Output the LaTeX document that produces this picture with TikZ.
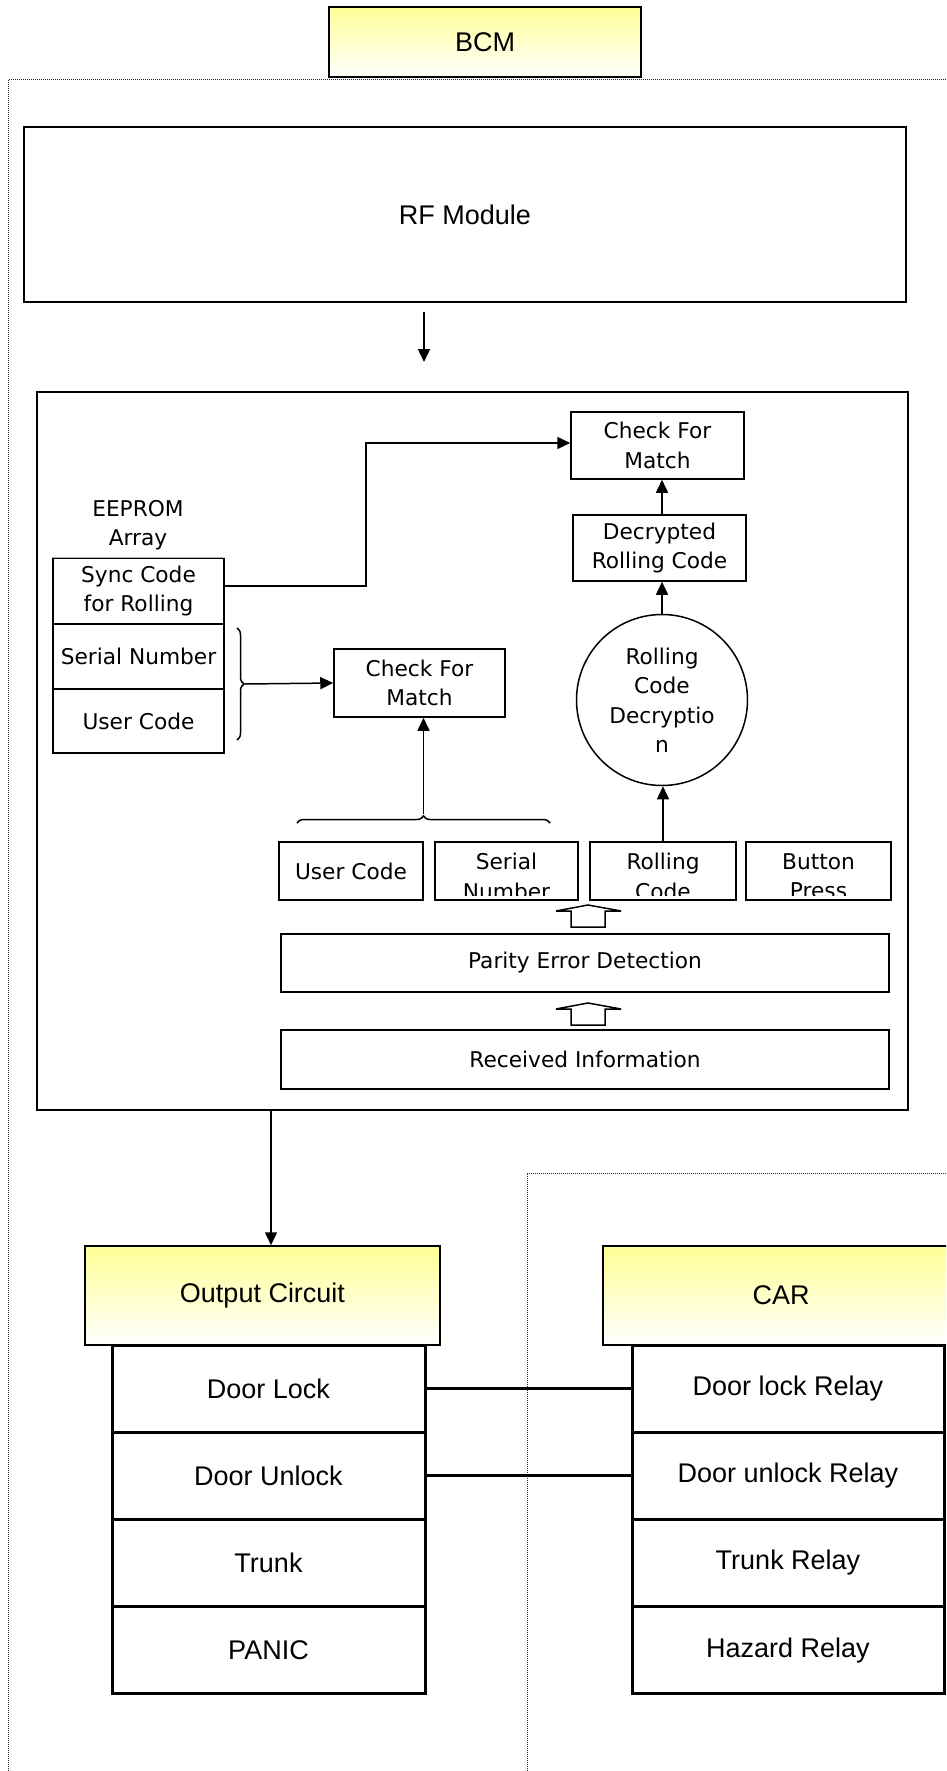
\documentclass[tikz,border=0pt]{standalone}
\usepackage{fontspec}
\setmainfont{Liberation Sans}
\newfontfamily\gulimfont{DejaVu Sans}
\usetikzlibrary{arrows.meta,decorations.pathreplacing}
\definecolor{hdryellow}{RGB}{255,255,150}
\begin{document}
\begin{tikzpicture}[x=1pt,y=-1pt,
  hdr/.style={draw,line width=1.5pt,top color=hdryellow,bottom color=white,inner sep=0pt,font=\fontsize{27}{32}\selectfont},
  outer/.style={draw,line width=1.5pt,inner sep=0pt,font=\fontsize{27}{32}\selectfont},
  cell/.style={draw,line width=3pt,minimum height=87pt,inner sep=0pt,font=\fontsize{27}{32}\selectfont},
  box/.style={draw,line width=1.5pt,inner sep=0pt,align=center,font=\gulimfont\fontsize{21.7}{29.5}\selectfont},
  txt/.style={inner sep=0pt,align=center,font=\gulimfont\fontsize{21.7}{29.5}\selectfont},
  arr/.style={line width=1.5pt,-{Triangle[length=13pt,width=12pt]}},
  link/.style={line width=3pt},
  zone/.style={densely dotted,line width=1pt,draw=black!85},
  brc/.style={line width=1.5pt,decorate,decoration={brace,amplitude=7pt}},
]
\useasboundingbox (0,0) rectangle (946,1771);
\clip (0,0) rectangle (946,1771);

% dotted zones
\draw[zone] (946,80) -- (8,80) -- (8,1771);
\draw[zone] (946,1173) -- (527,1173) -- (527,1771);

\node[hdr,minimum width=312pt,minimum height=70pt] (bcm) at (485,42) {BCM};
\node[outer,minimum width=882pt,minimum height=175pt] (rf) at (465,214.5) {RF Module};
\node[outer,minimum width=871pt,minimum height=718pt] (proc) at (472.5,751) {};

% rolling code path
\node[box,minimum width=173pt,minimum height=67pt] (chktop) at (657.5,445.5) {Check For\\Match};
\node[box,minimum width=173pt,minimum height=66pt] (decr) at (659.5,548) {Decrypted\\Rolling Code};
\node[box,circle,minimum size=171pt] (rdec) at (662,700) {Rolling\\Code\\Decryptio\\n};

% EEPROM
\node[txt] (eelbl) at (138,525) {EEPROM\\Array};
\node[box,minimum width=171pt,minimum height=66pt] (sync) at (138.5,591) {Sync Code\\for Rolling};
\node[box,minimum width=171pt,minimum height=65pt] (serl) at (138.5,656.5) {Serial Number};
\node[box,minimum width=171pt,minimum height=64pt] (usrc) at (138.5,721) {User Code};
\draw[line width=1.5pt,draw=black!30] (sync.north west) -- (sync.north east);
\node[box,minimum width=171pt,minimum height=68pt] (chkmid) at (419.5,683) {Check For\\Match};

% received frame
\node[box,minimum width=144pt,minimum height=58pt] (usr) at (351,871) {User Code};
\foreach \nm/\cx/\boxw/\lbl in {ser/506.5/143/{Serial\\Number},rol/663/146/{Rolling\\Code},btn/818.5/145/{Button\\Press}} {
  \node[box,minimum width=\boxw pt,minimum height=58pt] (\nm) at (\cx,871) {};
  \begin{scope}
    \clip (\nm.north west) rectangle ([yshift=5pt]\nm.south east);
    \node[txt,anchor=north] at ([yshift=-12pt]\nm.north) {\lbl};
  \end{scope}
}
\node[box,minimum width=608pt,minimum height=58pt] (parity) at (585,963) {Parity Error Detection};
\node[box,minimum width=608pt,minimum height=59pt] (recv) at (585,1059.5) {Received Information};
\foreach \yb in {927,1025}
  \draw[line width=1.5pt,fill=white] (571,\yb) -- ++(0,-16) -- ++(-15,0) -- ++(32,-6) -- ++(33,6) -- ++(-16,0) -- ++(0,16) -- cycle;

% outputs
\node[hdr,minimum width=355pt,minimum height=99pt] (outhdr) at (262.5,1295.5) {Output Circuit};
\node[hdr,minimum width=356pt,minimum height=99pt] (carhdr) at (781,1295.5) {CAR};
\foreach \nm/\cy/\lbl in {dl/1388.5/Door Lock,du/1475.5/Door Unlock,tr/1562.5/Trunk,pn/1650/PANIC}
  \node[cell,minimum width=313pt] (\nm) at (268.5,\cy) {\lbl};
\foreach \nm/\cy/\lbl in {dlr/1388.5/Door lock Relay,dur/1475.5/Door unlock Relay,trr/1562.5/Trunk Relay,hzr/1650/Hazard Relay}
  \node[cell,minimum width=312pt] (\nm) at (788,\cy) {\lbl};
\draw[link] (dl.east) -- (dlr.west);
\draw[link] (du.east) -- (dur.west);

% arrows
\coordinate (rfout) at (424,312);
\coordinate (procin) at (424,362);
\draw[arr] (rfout) -- (procin);
\draw[arr] (rol.north) -- (rol.north |- rdec.south);
\draw[arr] (rdec.north) -- (rdec.north |- decr.south);
\draw[arr] (rdec.north |- decr.north) -- (rdec.north |- chktop.south);
\draw[arr] ([yshift=5pt]sync.east) -- ++(141,0) |- ([yshift=2.5pt]chktop.west);
\draw[brc] (237,628) -- (237,740);
\coordinate (brtip) at (245,684);
\draw[arr] (brtip) -- (chkmid.west);
\draw[brc] (297,823) -- (550,823);
\coordinate (frtip) at (423.5,814);
\draw[arr] (frtip) -- (frtip |- chkmid.south);
\coordinate (outx) at (271,0);
\draw[arr] (proc.south -| outx) -- (outhdr.north -| outx);
\end{tikzpicture}
\end{document}
